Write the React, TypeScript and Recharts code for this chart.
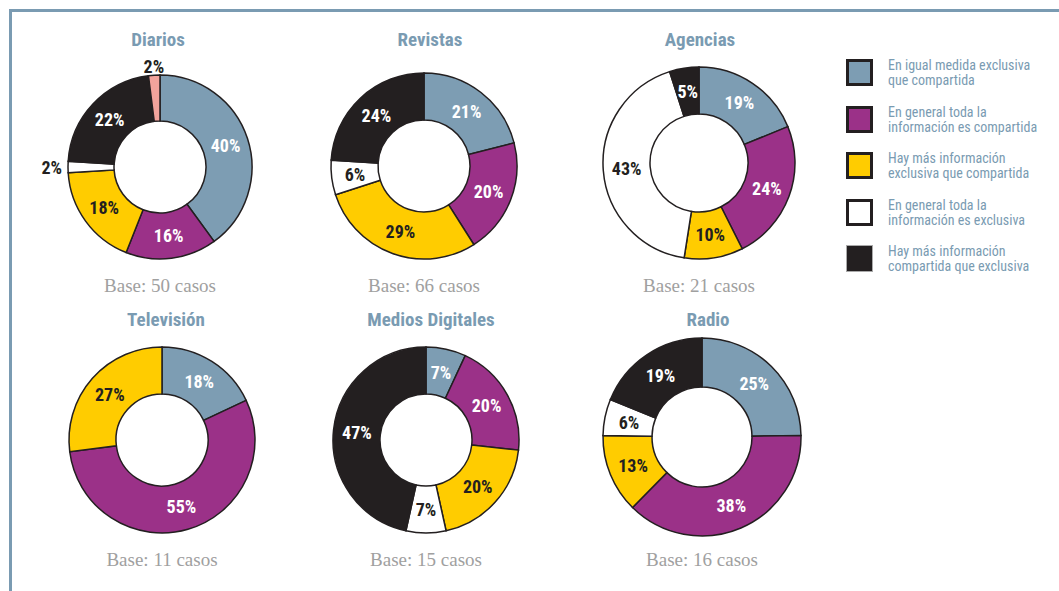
import React from "react";
import { PieChart, Pie } from "recharts";

const categories = [
  "En igual medida exclusiva\nque compartida",
  "En general toda la\ninformación es compartida",
  "Hay más información\nexclusiva que compartida",
  "En general toda la\ninformación es exclusiva",
  "Hay más información\ncompartida que exclusiva",
  "Otro",
];
const colors = ["#7d9db3", "#9b3188", "#ffcc00", "#ffffff", "#231f20", "#f2a39c"];
const darkText = [false, false, true, true, false, true];

const media = ["Diarios", "Revistas", "Agencias", "Televisión", "Medios Digitales", "Radio"];
const bases = [50, 66, 21, 11, 15, 16];

const diarios = [40, 16, 18, 2, 22, 2];
const revistas = [21, 20, 29, 6, 24];
const agencias = [19, 24, 10, 43, 5];
const television = [18, 55, 27];
const digitales = [7, 20, 20, 7, 47];
const radio = [25, 38, 13, 6, 19];

const series = [diarios, revistas, agencias, television, digitales, radio];

// layout of each donut on the page
const layout = [
  { cx: 160, cy: 167, r: 92, ir: 46, tx: 158, ty: 40, by: 286 },
  { cx: 424, cy: 166, r: 93, ir: 46, tx: 430, ty: 40, by: 286 },
  { cx: 699, cy: 163, r: 96, ir: 49, tx: 700, ty: 40, by: 286 },
  { cx: 162, cy: 440, r: 93, ir: 46, tx: 166, ty: 320, by: 560 },
  { cx: 426, cy: 440, r: 93, ir: 46, tx: 431, ty: 320, by: 560 },
  { cx: 702, cy: 437, r: 99, ir: 50, tx: 708, ty: 320, by: 560 },
];

const RAD = Math.PI / 180;
const condensed = "'Liberation Sans Narrow', 'Arial Narrow', 'Roboto Condensed', sans-serif";

const renderLabel = (p: any) => {
  const { cx, cy, midAngle, innerRadius, outerRadius, value, index } = p;
  const cos = Math.cos(-midAngle * RAD);
  const sin = Math.sin(-midAngle * RAD);
  let x: number, y: number, anchor: any = "middle", fill: string;
  if (value <= 3) {
    x = cx + (outerRadius + 6) * cos;
    y = cy + (outerRadius + 9) * sin;
    anchor = cos < -0.3 ? "end" : cos > 0.3 ? "start" : "middle";
    fill = "#231f20";
  } else {
    const r = (innerRadius + outerRadius) / 2;
    x = cx + r * cos;
    y = cy + r * sin;
    fill = darkText[index] ? "#231f20" : "#ffffff";
  }
  return (
    <text
      x={x}
      y={y}
      textAnchor={anchor}
      dominantBaseline="central"
      fill={fill}
      style={{ fontFamily: condensed, fontWeight: 700, fontSize: 18 }}
    >
      {value}%
    </text>
  );
};

export default function App() {
  return (
    <div style={{ position: "absolute", left: 0, top: 0, width: 1059, height: 591, background: "#fff", overflow: "hidden" }}>
      <div style={{ position: "absolute", left: 9, top: 9, width: 1060, height: 3, background: "#7a9bb2" }} />
      <div style={{ position: "absolute", left: 9, top: 9, width: 3, height: 600, background: "#7a9bb2" }} />

      <PieChart
        width={1059}
        height={591}
        margin={{ top: 0, right: 0, bottom: 0, left: 0 }}
        style={{ position: "absolute", left: 0, top: 0 }}
      >
        {series.map((vals, k) => (
          <Pie
            key={media[k]}
            data={vals.map((v, i) => ({ name: categories[i], value: v, fill: colors[i] }))}
            dataKey="value"
            cx={layout[k].cx}
            cy={layout[k].cy}
            outerRadius={layout[k].r}
            innerRadius={layout[k].ir}
            startAngle={90}
            endAngle={-270}
            stroke="#231f20"
            strokeWidth={1.5}
            label={renderLabel}
            labelLine={false}
            isAnimationActive={false}
          />
        ))}
      </PieChart>

      {media.map((m, k) => (
        <React.Fragment key={m}>
          <div
            style={{
              position: "absolute",
              left: layout[k].tx - 100,
              width: 200,
              top: layout[k].ty - 12,
              textAlign: "center",
              fontFamily: condensed,
              fontWeight: 700,
              fontSize: 19,
              color: "#7a9bb2",
              lineHeight: "24px",
            }}
          >
            {m}
          </div>
          <div
            style={{
              position: "absolute",
              left: layout[k].cx - 100,
              width: 200,
              top: layout[k].by - 13,
              textAlign: "center",
              fontFamily: "'Liberation Serif', serif",
              fontSize: 19,
              color: "#a0a0a0",
              lineHeight: "26px",
            }}
          >
            Base: {bases[k]} casos
          </div>
        </React.Fragment>
      ))}

      {categories.slice(0, 5).map((c, i) => (
        <div key={c} style={{ position: "absolute", left: 846, top: 59 + i * 46.5, display: "flex" }}>
          <div
            style={{
              boxSizing: "border-box",
              width: 27,
              height: 27,
              background: colors[i],
              border: i === 4 ? "1px solid #aaa" : "3px solid #231f20",
            }}
          />
          <div
            style={{
              marginLeft: 15,
              marginTop: -1,
              whiteSpace: "pre-line",
              fontFamily: condensed,
              fontSize: 14,
              lineHeight: "15px",
              color: "#7a9bb2",
            }}
          >
            {c}
          </div>
        </div>
      ))}
    </div>
  );
}
